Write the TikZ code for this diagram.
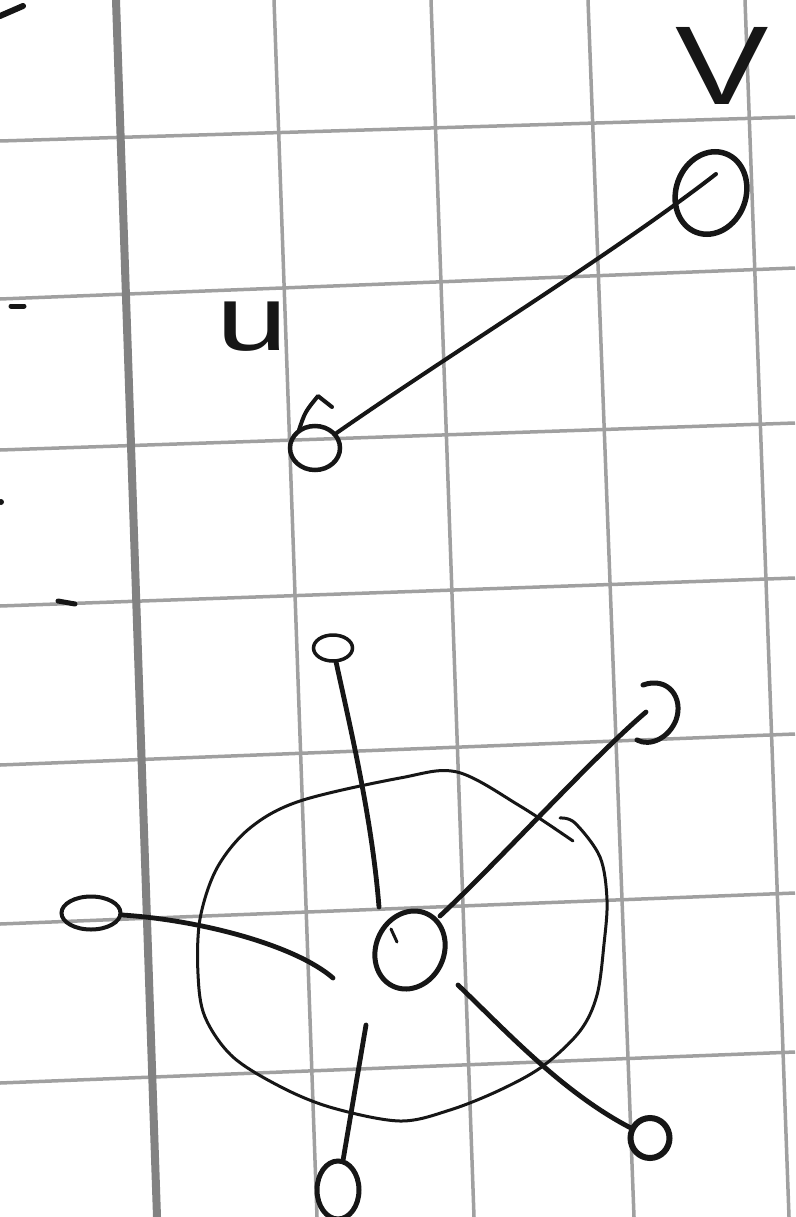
\documentclass[tikz,border=0pt]{standalone}
\usepackage{fontspec}
\newfontfamily\handfont{Liberation Sans}
\usetikzlibrary{shapes.geometric}
\definecolor{gridc}{RGB}{160,160,160}
\definecolor{griddark}{RGB}{130,130,130}
\definecolor{ink}{RGB}{22,22,22}
\begin{document}
\begin{tikzpicture}[x=1pt,y=-1pt,
  gridline/.style={gridc, line width=3.5pt},
  gridthick/.style={griddark, line width=8pt},
  pen/.style={ink, line width=4.8pt, line cap=round, line join=round},
  thinpen/.style={ink, line width=3pt, line cap=round, line join=round},
  vert/.style={ellipse, draw=ink, line width=4.5pt, inner sep=0pt},
  lbl/.style={ink, inner sep=0pt, anchor=base, font=\handfont},
]
\useasboundingbox (0,0) rectangle (795,1217);
\fill[white] (0,0) rectangle (795,1217);
% ---- squared paper ----
\foreach \a/\b in {141/117, 299/268, 450/423, 606/578, 765/734, 924/893, 1083/1052}
  \draw[gridline] (0,\a) -- (795,\b);
\draw[gridthick] (116,0) -- (157,1217);
\foreach \a/\b in {274/317, 431/474, 588/634, 745/789}
  \draw[gridline] (\a,0) -- (\b,1217);
% ---- stray marks at the left edge ----
\draw[ink, line width=6pt, line cap=round] (0,16) -- (23,6);
\draw[ink, line width=5pt, line cap=round] (11,306) -- (24,306);
\fill[ink] (1,502) circle (3);
\draw[ink, line width=5pt, line cap=round] (58,601) -- (75,604);
% ---- labels ----
\node[lbl, font=\handfont\fontsize{92}{92}\selectfont] (ulabel) at (252,350) {\scalebox{1.4}[1]{u}};
\node[lbl, font=\handfont\fontsize{112}{112}\selectfont] (vlabel) at (722,105) {\scalebox{1.25}[1]{V}};
% ---- vertices ----
\node[vert, minimum width=50pt, minimum height=44pt] (u) at (315,448) {};
\node[vert, line width=5.5pt, minimum width=70pt, minimum height=84pt, rotate=-20] (v) at (711,193) {};
\node[vert, line width=5pt, minimum width=68pt, minimum height=80pt, rotate=-25] (c) at (410,950) {};
\node[vert, line width=3.5pt, minimum width=39pt, minimum height=26pt] (t) at (333,648) {};
\node[vert, line width=4pt, minimum width=59pt, minimum height=33pt] (l) at (91,913) {};
\node[vert, line width=5pt, minimum width=42pt, minimum height=58pt] (b) at (338,1190) {};
\node[vert, line width=6pt, minimum width=39pt, minimum height=40pt] (r) at (650,1138) {};
\coordinate (q) at (652,712);
\draw[pen, line width=5pt] (643,685) .. controls (668,676) and (684,698) .. (676,720)
  .. controls (669,738) and (650,747) .. (637,740);
% small pen strokes on the vertices
\draw[pen, line width=4pt] (299,430) .. controls (305,412) .. (318,396) -- (332,407);
\draw[pen, line width=3pt] (391,929) -- (397,942);
% ---- connector end points ----
\coordinate (vin) at (716,174);
\coordinate (qin) at (646,712);
\coordinate (cT) at (379,907);
\coordinate (cQ) at (440,916);
\coordinate (cL) at (333,978);
\coordinate (cB) at (366,1025);
\coordinate (cR) at (458,985);
% ---- connectors ----
\draw[pen, line width=4pt] (u) .. controls (460,347) and (610,256) .. (vin);
\draw[pen] (t) .. controls (352,735) and (372,820) .. (cT);
\draw[pen] (cQ) .. controls (500,860) and (590,760) .. (qin);
\draw[pen] (l) .. controls (200,920) and (295,945) .. (cL);
\draw[pen] (cB) -- (b);
\draw[pen] (cR) .. controls (505,1030) and (562,1092) .. (r);
% ---- the big closed curve round the centre ----
\draw[thinpen] plot[smooth, tension=0.55] coordinates {(573,841) (520,806) (457,772) (400,778) (300,801) (250,828) (217,868) (200,919) (198,974) (205,1017) (233,1057) (283,1088) (333,1108) (400,1121) (450,1110) (500,1090) (543,1066) (580,1031) (597,995) (604,944) (607,900) (600,857) (575,823) (560,818)};
\end{tikzpicture}
\end{document}
